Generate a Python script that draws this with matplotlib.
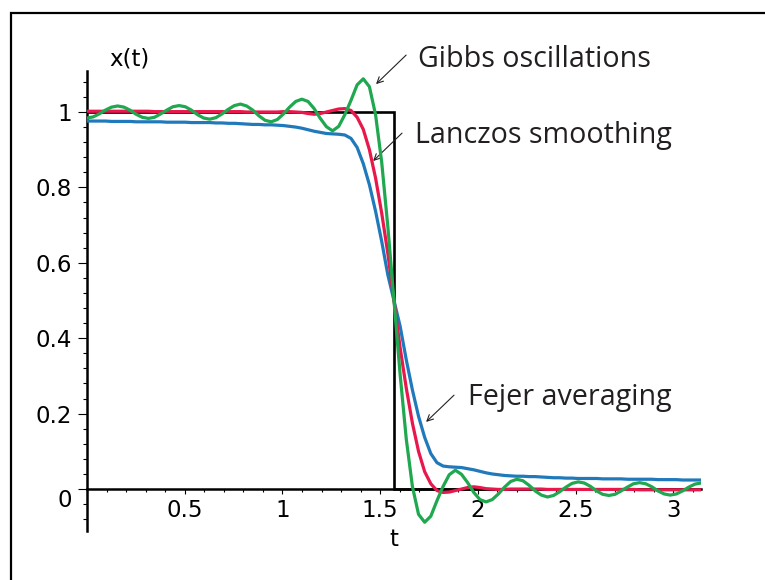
import numpy as np
import matplotlib
matplotlib.use("Agg")
import matplotlib.pyplot as plt
from matplotlib.ticker import MultipleLocator
from matplotlib.patches import Rectangle

plt.rcParams['font.family'] = ['DejaVu Sans']

# sample positions t_j = j*pi/100, j = 0..100
t = np.linspace(0, np.pi, 101)

# square wave x(t)
step_t = [0.0, np.pi / 2, np.pi / 2, np.pi]
step_x = [1.0, 1.0, 0.0, 0.0]

# truncated Fourier series (Gibbs oscillations)
gibbs = [0.984, 0.987, 0.995, 1.005, 1.013, 1.016, 1.013, 1.005, 0.994, 0.986,
         0.983, 0.986, 0.995, 1.005, 1.014, 1.017, 1.014, 1.005, 0.993, 0.984,
         0.981, 0.985, 0.995, 1.007, 1.017, 1.021, 1.016, 1.005, 0.990, 0.978,
         0.974, 0.980, 0.995, 1.013, 1.028, 1.034, 1.028, 1.009, 0.983, 0.961,
         0.950, 0.962, 0.993, 1.031, 1.072, 1.088, 1.067, 0.993, 0.867, 0.696,
         0.500,
         0.304, 0.133, 0.007, -0.067, -0.088, -0.072, -0.031, 0.007, 0.038, 0.050,
         0.039, 0.017, -0.009, -0.028, -0.034, -0.028, -0.013, 0.005, 0.020, 0.026,
         0.022, 0.010, -0.005, -0.016, -0.021, -0.017, -0.007, 0.005, 0.015, 0.019,
         0.016, 0.007, -0.005, -0.014, -0.017, -0.014, -0.005, 0.005, 0.014, 0.017,
         0.014, 0.006, -0.005, -0.013, -0.016, -0.013, -0.005, 0.005, 0.013, 0.016]

# Lanczos sigma smoothing
lanczos = [1.002, 1.002, 1.002, 1.002, 1.002, 1.002, 1.002, 1.002, 1.002, 1.002,
           1.002, 1.001, 1.001, 1.001, 1.001, 1.001, 1.001, 1.001, 1.001, 1.001,
           1.001, 1.001, 1.001, 1.001, 1.001, 1.001, 1.000, 1.000, 1.000, 1.000,
           1.000, 1.000, 1.001, 1.001, 1.000, 0.999, 0.996, 0.994, 0.996, 1.000,
           1.004, 1.008, 1.009, 1.004, 0.986, 0.954, 0.900, 0.825, 0.732, 0.625,
           0.500,
           0.375, 0.268, 0.175, 0.100, 0.046, 0.014, -0.004, -0.009, -0.008, -0.004,
           0.000, 0.004, 0.006, 0.004, 0.001, 0.000, -0.001, -0.001, 0.000, 0.000,
           0.000, 0.000, 0.000, 0.000, -0.001, -0.001, -0.001, -0.001, -0.001, -0.001,
           -0.001, -0.001, -0.001, -0.001, -0.001, -0.001, -0.001, -0.001, -0.001, -0.002,
           -0.002, -0.002, -0.002, -0.002, -0.002, -0.002, -0.002, -0.002, -0.002, -0.002]

# Fejer averaging
fejer = [0.976, 0.976, 0.976, 0.976, 0.975, 0.975, 0.975, 0.975, 0.974, 0.974,
         0.974, 0.974, 0.974, 0.973, 0.973, 0.973, 0.973, 0.972, 0.972, 0.972,
         0.972, 0.971, 0.971, 0.970, 0.970, 0.969, 0.968, 0.967, 0.967, 0.966,
         0.966, 0.965, 0.964, 0.962, 0.960, 0.957, 0.953, 0.949, 0.946, 0.943,
         0.942, 0.941, 0.939, 0.930, 0.906, 0.863, 0.807, 0.737, 0.657, 0.568,
         0.500,
         0.432, 0.343, 0.263, 0.193, 0.137, 0.094, 0.070, 0.061, 0.059, 0.058,
         0.057, 0.054, 0.051, 0.047, 0.043, 0.040, 0.038, 0.036, 0.035, 0.034,
         0.034, 0.033, 0.033, 0.032, 0.031, 0.030, 0.030, 0.029, 0.029, 0.028,
         0.028, 0.028, 0.028, 0.027, 0.027, 0.027, 0.027, 0.026, 0.026, 0.026,
         0.026, 0.026, 0.025, 0.025, 0.025, 0.025, 0.024, 0.024, 0.024, 0.024]

xtick_vals = [0.5, 1, 1.5, 2, 2.5, 3]
xtick_text = ['0.5', '1', '1.5', '2', '2.5', '3']
ytick_vals = [0, 0.2, 0.4, 0.6, 0.8, 1]
ytick_text = ['0', '0.2', '0.4', '0.6', '0.8', '1']

GREEN = '#1fa84f'
RED = '#e8174c'
BLUE = '#2079bb'

fig = plt.figure(figsize=(7.65, 5.8), dpi=100)
ax = fig.add_axes([0.1137, 0.0853, 0.8026, 0.7931])

ax.plot(step_t, step_x, color='black', lw=1.9, zorder=2, solid_joinstyle='miter')
ax.plot(t, fejer, color=BLUE, lw=2.3, zorder=3)
ax.plot(t, lanczos, color=RED, lw=2.3, zorder=4)
ax.plot(t, gibbs, color=GREEN, lw=2.3, zorder=5)

ax.set_xlim(0, np.pi)
ax.set_ylim(-0.11, 1.11)

# axes through the origin
for s in ['top', 'right']:
    ax.spines[s].set_visible(False)
ax.spines['bottom'].set_position(('data', 0))
ax.spines['bottom'].set_linewidth(1.8)
ax.spines['left'].set_linewidth(1.8)

ax.set_xticks(xtick_vals)
ax.set_xticklabels(xtick_text)
ax.set_yticks(ytick_vals)
ax.set_yticklabels(ytick_text)
ax.xaxis.set_minor_locator(MultipleLocator(0.1))
ax.yaxis.set_minor_locator(MultipleLocator(0.04))

ax.tick_params(axis='x', which='major', direction='out', length=3.6, width=0.8,
               labelsize=16.5, pad=3.5)
ax.tick_params(axis='x', which='minor', direction='out', length=1.8, width=0.8)
ax.tick_params(axis='y', which='major', direction='out', length=6.5, width=0.8,
               labelsize=16.5, pad=4.5)
ax.tick_params(axis='y', which='minor', direction='out', length=3.2, width=0.8)

# Maple puts the "0" just below the x axis
ax.get_yticklabels()[0].set_verticalalignment('top')

fig.text(394 / 765, 1 - 539 / 580, 't', ha='center', va='center', fontsize=16.5)
fig.text(129 / 765, 1 - 59 / 580, 'x(t)', ha='center', va='center', fontsize=16.5)

# annotations
note_font = dict(family=['Open Sans', 'DejaVu Sans'], fontsize=20.6, color='#231f20')
arrow = dict(arrowstyle='->', color='#222222', lw=0.8, mutation_scale=11,
             shrinkA=0, shrinkB=0)

ax.text(1.694, 1.119, 'Gibbs oscillations', va='baseline', ha='left',
        clip_on=False, **note_font)
ax.annotate('', xy=(1.479, 1.074), xytext=(1.633, 1.151), arrowprops=arrow,
            annotation_clip=False)

ax.text(1.679, 0.918, 'Lanczos smoothing', va='baseline', ha='left',
        clip_on=False, **note_font)
ax.annotate('', xy=(1.464, 0.870), xytext=(1.612, 0.944), arrowprops=arrow,
            annotation_clip=False)

ax.text(1.951, 0.223, 'Fejer averaging', va='baseline', ha='left',
        clip_on=False, **note_font)
ax.annotate('', xy=(1.735, 0.178), xytext=(1.878, 0.249), arrowprops=arrow,
            annotation_clip=False)

# frame around the picture (runs off the right and bottom edge)
fig.patches.append(Rectangle((11 / 765, -0.05), 1.1, 1.05 - 13 / 580,
                             transform=fig.transFigure, fill=False,
                             edgecolor='black', lw=1.6))

fig.savefig('out.png', dpi=100)
